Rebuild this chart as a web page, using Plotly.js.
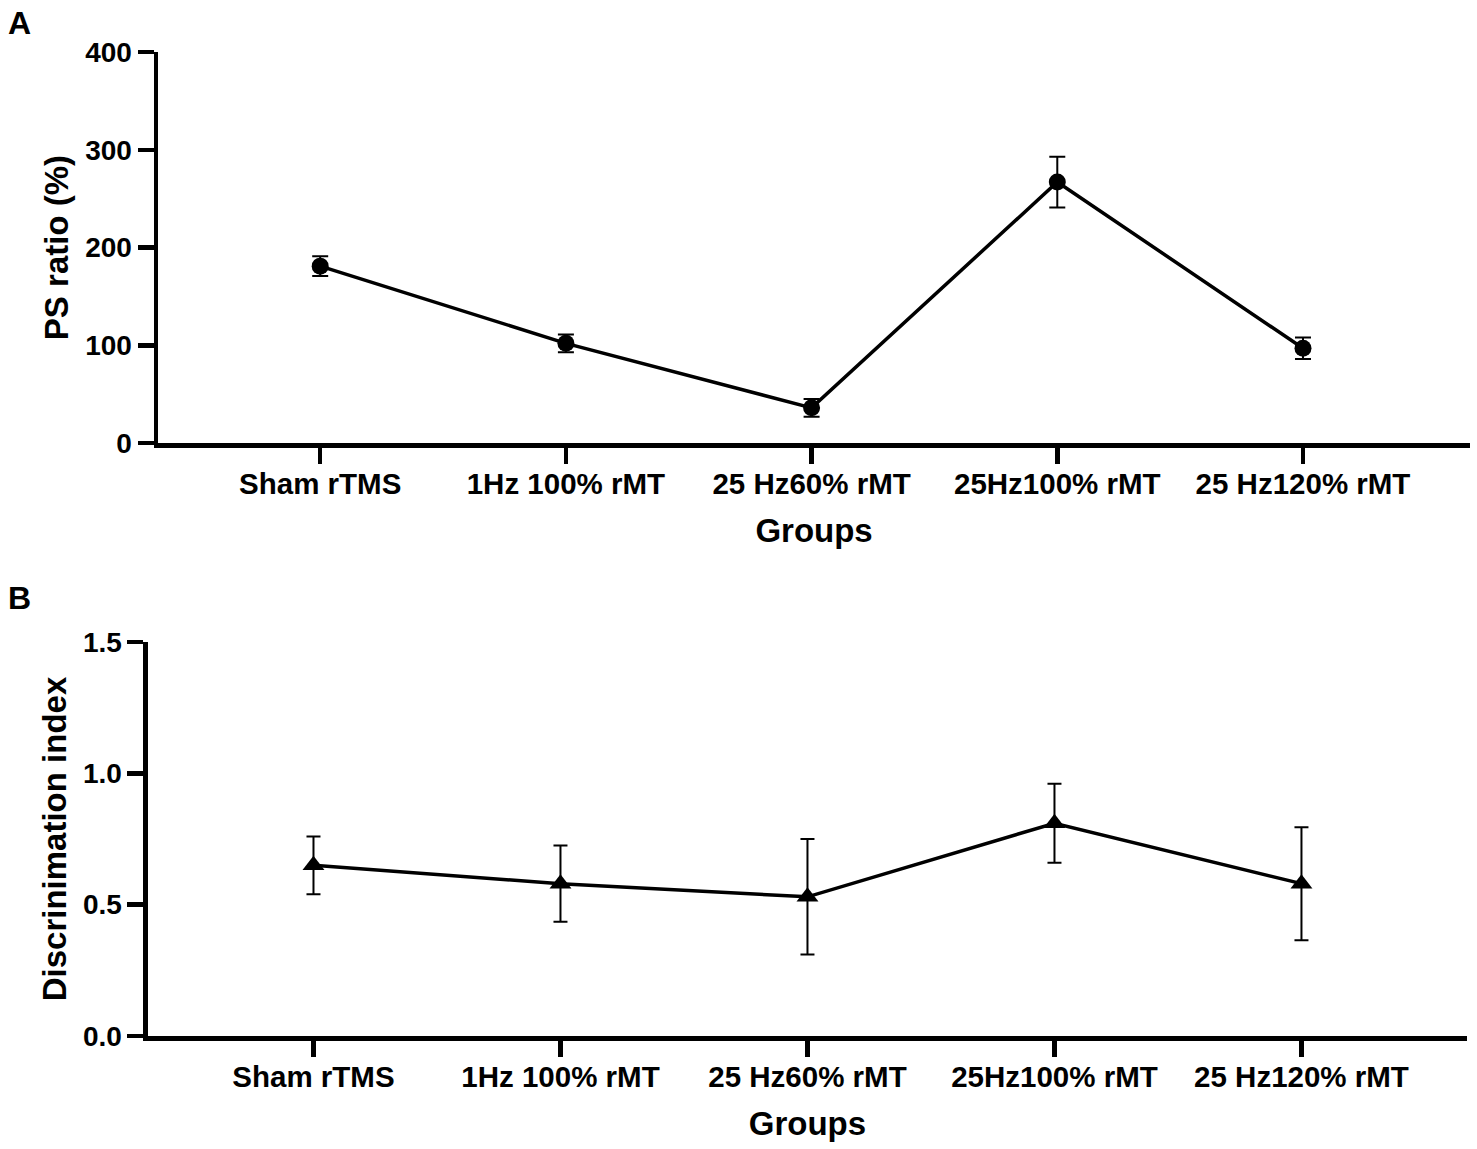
<!DOCTYPE html>
<html>
<head>
<meta charset="utf-8">
<script src="https://cdn.plot.ly/plotly-3.0.1.min.js"></script>
<style>
  html, body { margin: 0; padding: 0; background: #fff; }
  #chart { width: 1477px; height: 1149px; }
</style>
</head>
<body>
<div id="chart"></div>
<script>
const groups = ['Sham rTMS', '1Hz 100% rMT', '25 Hz60% rMT', '25Hz100% rMT', '25 Hz120% rMT'];

// panel A: PS ratio (%), mean and error
const psRatio = [181, 102, 36, 267, 97];
const psRatioErr = [10, 9, 9, 26, 11];

// panel B: discrimination index, mean and error
const discIndex = [0.65, 0.58, 0.53, 0.81, 0.58];
const discIndexErr = [0.11, 0.145, 0.22, 0.15, 0.215];

const target = document.getElementById('chart');
const fontFamily = '"Liberation Sans", Arial, sans-serif';

const traceA = {
  x: groups,
  y: psRatio,
  xaxis: 'x',
  yaxis: 'y',
  type: 'scatter',
  mode: 'lines+markers',
  line: { color: '#000', width: 3.5 },
  marker: { symbol: 'circle', size: 17, color: '#000' },
  error_y: { type: 'data', array: psRatioErr, visible: true, color: '#000', thickness: 2, width: 8 },
  cliponaxis: false,
  showlegend: false
};

const traceB = {
  x: groups,
  y: discIndex,
  xaxis: 'x2',
  yaxis: 'y2',
  type: 'scatter',
  mode: 'lines+markers',
  line: { color: '#000', width: 3.5 },
  marker: { symbol: 'triangle-up', size: 19, color: '#000' },
  error_y: { type: 'data', array: discIndexErr, visible: true, color: '#000', thickness: 2, width: 7 },
  cliponaxis: false,
  showlegend: false
};

function axisBase(fontSize) {
  return {
    showline: true,
    linecolor: '#000',
    linewidth: 4.5,
    ticks: 'outside',
    ticklen: 16,
    tickwidth: 4.5,
    tickcolor: '#000',
    showgrid: false,
    zeroline: false,
    fixedrange: true,
    tickfont: { family: fontFamily, size: fontSize, color: '#000', weight: 'bold' }
  };
}

const titleFont = { family: fontFamily, size: 33, color: '#000', weight: 'bold' };

const layout = {
  width: 1477,
  height: 1149,
  paper_bgcolor: '#fff',
  plot_bgcolor: '#fff',
  margin: { l: 0, r: 0, t: 0, b: 0 },
  font: { family: fontFamily, color: '#000' },
  xaxis: Object.assign(axisBase(29.5), {
    domain: [0.107, 0.9953],
    anchor: 'y',
    type: 'category',
    range: [-0.66, 4.68],
    ticklabelstandoff: -5,
    title: { text: 'Groups', font: titleFont, standoff: 21 }
  }),
  yaxis: Object.assign(axisBase(28), {
    domain: [0.6144, 0.9547],
    anchor: 'x',
    range: [0, 400],
    tickvals: [0, 100, 200, 300, 400],
    title: { text: 'PS ratio (%)', font: titleFont, standoff: 8 }
  }),
  xaxis2: Object.assign(axisBase(29.5), {
    domain: [0.1002, 0.9932],
    anchor: 'y2',
    type: 'category',
    range: [-0.67, 4.67],
    ticklabelstandoff: -5,
    title: { text: 'Groups', font: titleFont, standoff: 21 }
  }),
  yaxis2: Object.assign(axisBase(28), {
    domain: [0.0983, 0.4413],
    anchor: 'x2',
    range: [0, 1.5],
    tickvals: [0, 0.5, 1.0, 1.5],
    tickformat: '.1f',
    title: { text: 'Discrinimation index', font: titleFont, standoff: 8 }
  }),
  annotations: [
    { text: 'A', xref: 'paper', yref: 'paper', x: 0.0135, y: 1 - 23 / 1149, xanchor: 'center', yanchor: 'middle',
      showarrow: false, font: { family: fontFamily, size: 32, color: '#000', weight: 'bold' } },
    { text: 'B', xref: 'paper', yref: 'paper', x: 0.0135, y: 1 - 598 / 1149, xanchor: 'center', yanchor: 'middle',
      showarrow: false, font: { family: fontFamily, size: 32, color: '#000', weight: 'bold' } }
  ]
};

Plotly.newPlot(target, [traceA, traceB], layout, { displayModeBar: false, staticPlot: true });
</script>
</body>
</html>
